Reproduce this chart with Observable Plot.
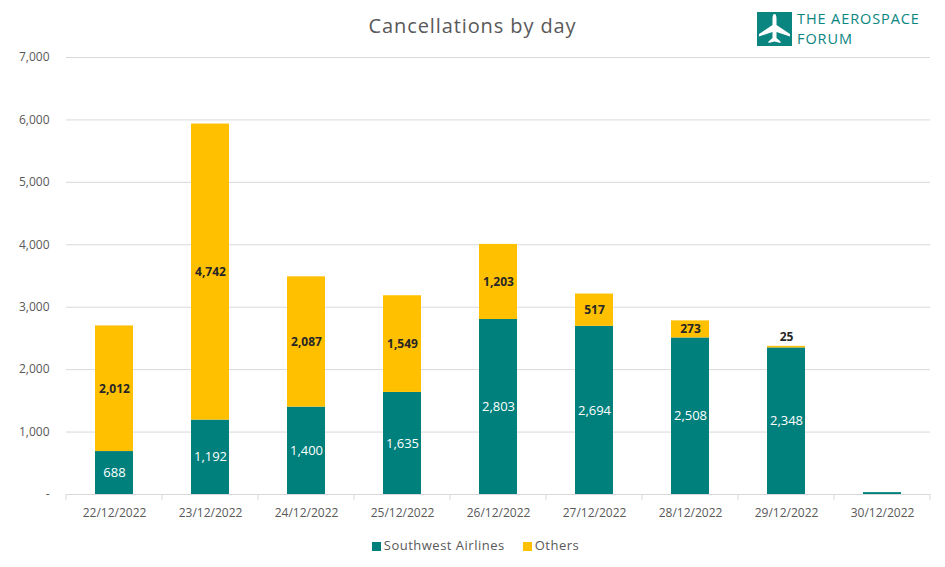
<!DOCTYPE html>
<html>
<head>
<meta charset="utf-8">
<script src="https://cdn.jsdelivr.net/npm/d3@7"></script>
<script src="https://cdn.jsdelivr.net/npm/@observablehq/plot@0.6"></script>
<style>
  html, body { margin: 0; padding: 0; background: #fff; }
  body { width: 945px; height: 567px; position: relative; font-family: "Open Sans", sans-serif; overflow: hidden; }
  #title { height: 45px; line-height: 51px; text-align: center; font-size: 20px; color: #595959; letter-spacing: 0.9px; }
  #chart svg { display: block; }
  #legend { height: 20px; display: flex; justify-content: center; align-items: center; gap: 18px; font-size: 13px; color: #595959; letter-spacing: 0.5px; padding-left: 6px; }
  #legend span.sw { display: inline-block; width: 9px; height: 9px; margin-right: 3px; vertical-align: middle; }
  #logo { position: absolute; left: 757px; top: 12px; }
  #logo svg { position: absolute; left: 0; top: 0; }
  #logo .t { position: absolute; left: 40px; color: #0a8580; font-size: 14.5px; letter-spacing: 0.9px; white-space: nowrap; line-height: 20px; height: 20px; }
</style>
</head>
<body>
<div id="title">Cancellations by day</div>
<div id="logo">
  <svg width="35" height="34" viewBox="0 0 35 34">
    <rect x="0" y="0" width="35" height="34" fill="#0a8580"/>
    <path d="M17.5 2 C19 2 19.5 4 19.5 7 L19.5 13 L33 22 L33 24.5 L19.5 20 L19.5 26 L23.5 29.5 L23.5 31 L17.5 29.5 L11.5 31 L11.5 29.5 L15.5 26 L15.5 20 L2 24.5 L2 22 L15.5 13 L15.5 7 C15.5 4 16 2 17.5 2 Z" fill="#fff"/>
  </svg>
  <div class="t" style="top:-3px">THE AEROSPACE</div>
  <div class="t" style="top:17px">FORUM</div>
</div>
<div id="chart"></div>
<div id="legend">
  <div><span class="sw" style="background:#00807c"></span>Southwest Airlines</div>
  <div><span class="sw" style="background:#ffc000"></span>Others</div>
</div>
<script>
const days = ["22/12/2022","23/12/2022","24/12/2022","25/12/2022","26/12/2022","27/12/2022","28/12/2022","29/12/2022","30/12/2022"];
const southwest = [688, 1192, 1400, 1635, 2803, 2694, 2508, 2348, 30];
const others = [2012, 4742, 2087, 1549, 1203, 517, 273, 25, 0];
const yTicks = [0, 1000, 2000, 3000, 4000, 5000, 6000, 7000];

const teal = "#00807c";
const yellow = "#ffc000";

const rows = [];
days.forEach((d, i) => {
  rows.push({day: d, series: "Southwest Airlines", value: southwest[i], y1: 0, y2: southwest[i]});
  rows.push({day: d, series: "Others", value: others[i], y1: southwest[i], y2: southwest[i] + others[i]});
});
const swRows = rows.filter(r => r.series === "Southwest Airlines");
const otRows = rows.filter(r => r.series === "Others");

const fmt = d3.format(",");

const boundaryTicks = (index, scales, values, dims) => {
  const x = scales.x;
  const bw = typeof x.bandwidth === "function" ? x.bandwidth() : x.bandwidth;
  const y0 = scales.y(0);
  const xs = days.map(d => x(d));
  xs.push(x(days[days.length - 1]) + bw);
  const g = d3.create("svg:g");
  g.append("line")
    .attr("x1", xs[0]).attr("x2", xs[xs.length - 1])
    .attr("y1", y0 + 0.5).attr("y2", y0 + 0.5)
    .attr("stroke", "#d9d9d9");
  for (const xv of xs) {
    g.append("line")
      .attr("x1", xv).attr("x2", xv)
      .attr("y1", y0).attr("y2", y0 + 6)
      .attr("stroke", "#d9d9d9");
  }
  return g.node();
};

const chart = Plot.plot({
  width: 945,
  height: 490,
  marginTop: 12,
  marginBottom: 41,
  marginLeft: 66,
  marginRight: 15,
  style: {fontFamily: "Open Sans, sans-serif", fontSize: "12px", color: "#595959", background: "#fff"},
  x: {domain: days, padding: 0, label: null},
  y: {domain: [0, 7000], label: null},
  marks: [
    Plot.ruleY(yTicks.filter(t => t > 0), {stroke: "#d9d9d9", strokeWidth: 1}),
    Plot.barY(rows, {x: "day", y1: "y1", y2: "y2", fill: d => d.series === "Others" ? yellow : teal, insetLeft: 29, insetRight: 29}),
    boundaryTicks,
    Plot.axisY({ticks: yTicks, tickSize: 0, tickPadding: 17, tickFormat: d => d === 0 ? "-" : fmt(d), fontSize: 12, fill: "#595959"}),
    Plot.axisX({tickSize: 0, tickPadding: 14, fontSize: 12, fill: "#595959"}),
    Plot.text(swRows.filter(r => r.value >= 100), {x: "day", y: r => (r.y1 + r.y2) / 2, text: r => fmt(r.value), fill: "#fff", fontSize: 13}),
    Plot.text(otRows.filter(r => r.value >= 100), {x: "day", y: r => (r.y1 + r.y2) / 2, text: r => fmt(r.value), fill: "#262626", fontSize: 12, fontWeight: "bold"}),
    Plot.text(otRows.filter(r => r.value > 0 && r.value < 100), {x: "day", y: "y2", dy: -9, text: r => fmt(r.value), fill: "#262626", fontSize: 12, fontWeight: "bold"})
  ]
});
document.getElementById("chart").appendChild(chart);
</script>
</body>
</html>
